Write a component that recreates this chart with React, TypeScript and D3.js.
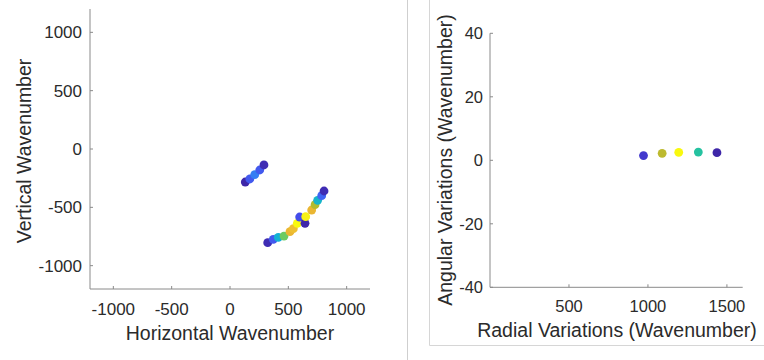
import React from "react";
import * as d3 from "d3";

// Left panel: horizontal vs vertical wavenumber
const leftX = [131, 170, 212, 255, 291, 323, 371, 414, 463, 514, 543, 577, 597, 643, 649, 700, 729, 751, 786, 806];
const leftY = [-283, -257, -220, -180, -137, -803, -774, -757, -746, -709, -683, -637, -583, -637, -580, -523, -477, -440, -400, -360];
const leftC = [0.0, 0.15, 0.25, 0.15, 0.02, 0.02, 0.15, 0.4, 0.6, 0.8, 0.83, 1.0, 0.12, 0.0, 0.98, 0.8, 0.7, 0.42, 0.18, 0.02];

// Right panel: radial vs angular variations
const rightX = [972, 1090, 1195, 1319, 1437];
const rightY = [1.5, 2.2, 2.5, 2.6, 2.4];
const rightC = [0.06, 0.72, 1.0, 0.5, 0.0];

const leftXTicks = [-1000, -500, 0, 500, 1000];
const leftYTicks = [-1000, -500, 0, 500, 1000];
const rightXTicks = [500, 1000, 1500];
const rightYTicks = [-40, -20, 0, 20, 40];

const parulaStops = [0, 0.1, 0.2, 0.3, 0.4, 0.5, 0.6, 0.7, 0.8, 0.9, 1];
const parulaColors = ["#3e26a8", "#4545e6", "#3f6cf6", "#2b8ff0", "#14b1d4", "#25c2a0", "#6ccb62", "#b2bb2e", "#eab632", "#f6d32e", "#f9f90e"];

const FONT = "'Liberation Sans', Arial, Helvetica, sans-serif";
const AXIS = "#8a8a8a";
const TEXT = "#2b2b2b";

export default function App() {
  const color = d3.scaleLinear<string>().domain(parulaStops).range(parulaColors);

  const lx = d3.scaleLinear().domain([-1200, 1200]).range([90, 370]);
  const ly = d3.scaleLinear().domain([-1200, 1200]).range([289, 9]);
  const rx = d3.scaleLinear().domain([0, 1600]).range([490, 742.7]);
  const ry = d3.scaleLinear().domain([-40, 40]).range([287.3, 33.3]);

  const tl = 3;

  return (
    <svg width={764} height={360} style={{ position: "absolute", left: 0, top: 0 }}>
      <rect x={0} y={0} width={764} height={360} fill="#fff" />
      {/* separators */}
      <line x1={407.5} y1={0} x2={407.5} y2={360} stroke="#cfcfcf" strokeWidth={1} />
      <line x1={429.5} y1={0} x2={429.5} y2={345.5} stroke="#d6d6d6" strokeWidth={1} />
      <line x1={429.5} y1={345.5} x2={764} y2={345.5} stroke="#d6d6d6" strokeWidth={1} />

      {/* Left panel */}
      <g fontFamily={FONT} fill={TEXT}>
        <line x1={lx.range()[0]} y1={ly.range()[0]} x2={lx.range()[0]} y2={ly.range()[1]} stroke={AXIS} />
        <line x1={lx.range()[0]} y1={ly.range()[0]} x2={lx.range()[1]} y2={ly.range()[0]} stroke={AXIS} />
        {leftXTicks.map((t) => (
          <g key={"lx" + t}>
            <line x1={lx(t)} x2={lx(t)} y1={ly.range()[0]} y2={ly.range()[0] - tl} stroke={AXIS} />
            <text x={lx(t)} y={ly.range()[0] + 26} textAnchor="middle" fontSize={17}>{t}</text>
          </g>
        ))}
        {leftYTicks.map((t) => (
          <g key={"ly" + t}>
            <line x1={lx.range()[0]} x2={lx.range()[0] + tl} y1={ly(t)} y2={ly(t)} stroke={AXIS} />
            <text x={lx.range()[0] - 8} y={ly(t)} dy="0.35em" textAnchor="end" fontSize={17}>{t}</text>
          </g>
        ))}
        <text x={230} y={340} textAnchor="middle" fontSize={19.5}>Horizontal Wavenumber</text>
        <text transform={`translate(31,151) rotate(-90)`} textAnchor="middle" fontSize={19.5}>Vertical Wavenumber</text>
        {leftX.map((v, i) => (
          <circle key={"lp" + i} cx={lx(v)} cy={ly(leftY[i])} r={4.4} fill={color(leftC[i])} />
        ))}
      </g>

      {/* Right panel */}
      <g fontFamily={FONT} fill={TEXT}>
        <line x1={rx.range()[0]} y1={ry.range()[0]} x2={rx.range()[0]} y2={ry.range()[1]} stroke={AXIS} />
        <line x1={rx.range()[0]} y1={ry.range()[0]} x2={rx.range()[1]} y2={ry.range()[0]} stroke={AXIS} />
        {rightXTicks.map((t) => (
          <g key={"rx" + t}>
            <line x1={rx(t)} x2={rx(t)} y1={ry.range()[0]} y2={ry.range()[0] - tl} stroke={AXIS} />
            <text x={rx(t)} y={ry.range()[0] + 25} textAnchor="middle" fontSize={16.5}>{t}</text>
          </g>
        ))}
        {rightYTicks.map((t) => (
          <g key={"ry" + t}>
            <line x1={rx.range()[0]} x2={rx.range()[0] + tl} y1={ry(t)} y2={ry(t)} stroke={AXIS} />
            <text x={rx.range()[0] - 7} y={ry(t)} dy="0.35em" textAnchor="end" fontSize={16.5}>{t}</text>
          </g>
        ))}
        <text x={617} y={337} textAnchor="middle" fontSize={19.5}>Radial Variations (Wavenumber)</text>
        <text transform={`translate(452,160) rotate(-90)`} textAnchor="middle" fontSize={19.5}>Angular Variations (Wavenumber)</text>
        {rightX.map((v, i) => (
          <circle key={"rp" + i} cx={rx(v)} cy={ry(rightY[i])} r={4.4} fill={color(rightC[i])} />
        ))}
      </g>
    </svg>
  );
}
